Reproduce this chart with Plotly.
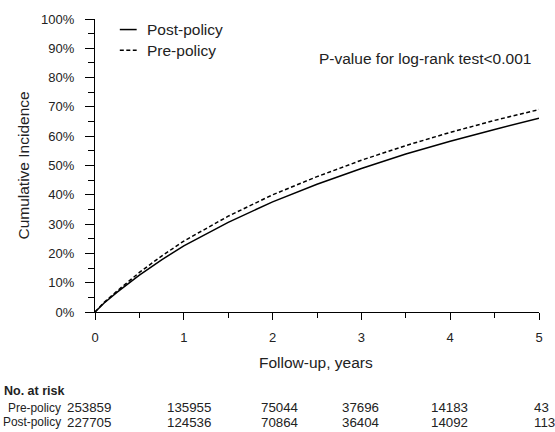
import plotly.graph_objects as go

# ---- data ----
time_years = [0, 0.1, 0.25, 0.5, 0.75, 1, 1.5, 2, 2.5, 3, 3.5, 4, 4.5, 5]
post_policy = [0, 3.0, 6.8, 12.6, 17.8, 22.6, 30.6, 37.6, 43.6, 49.0, 53.9, 58.3, 62.3, 66.1]
pre_policy = [0, 3.2, 7.2, 13.5, 19.1, 24.2, 32.7, 40.0, 46.2, 51.8, 56.8, 61.3, 65.4, 69.1]

risk_groups = ["Pre-policy", "Post-policy"]
risk_pre = ["253859", "135955", "75044", "37696", "14183", "43"]
risk_post = ["227705", "124536", "70864", "36404", "14092", "113"]
x_ticks = [0, 1, 2, 3, 4, 5]
y_ticks = [0, 10, 20, 30, 40, 50, 60, 70, 80, 90, 100]

FONT = "Liberation Sans, Arial, Helvetica, sans-serif"
TXT = "#222222"

W, H = 555, 432
ML, MR, MT, MB = 95, 12.5, 15, 120
PW = W - ML - MR
PH = H - MT - MB


def px_x(p):
    return (p - ML) / PW


def px_y(p):
    return (H - MB - p) / PH


fig = go.Figure()
fig.add_trace(go.Scatter(x=time_years, y=[v / 100 for v in post_policy], mode="lines",
                         name="Post-policy", line=dict(color="black", width=1.5),
                         showlegend=False))
fig.add_trace(go.Scatter(x=time_years, y=[v / 100 for v in pre_policy], mode="lines",
                         name="Pre-policy", line=dict(color="black", width=1.5, dash="4px,2.5px"),
                         showlegend=False))

shapes = []
ann = []
# manual legend
leg_rows = [("Post-policy", "solid", 25.7), ("Pre-policy", "4px,2.5px", 46.7)]
for name, dash, py in leg_rows:
    shapes.append(dict(type="line", xref="paper", yref="paper",
                       x0=px_x(120), x1=px_x(137), y0=px_y(py), y1=px_y(py),
                       line=dict(color="black", width=1.5, dash=dash)))
    ann.append(dict(text=name, xref="paper", yref="paper", x=px_x(145), y=px_y(py),
                    xanchor="left", yanchor="middle", showarrow=False,
                    font=dict(size=15.5, family=FONT, color=TXT)))

ann.append(dict(text="P-value for log-rank test<0.001", xref="paper", yref="paper",
                x=px_x(319), y=px_y(55), xanchor="left", yanchor="middle", showarrow=False,
                font=dict(size=15.5, family=FONT, color=TXT)))

ann.append(dict(text="Cumulative Incidence", xref="paper", yref="paper",
                x=px_x(23), y=px_y(164), xanchor="center", yanchor="middle", textangle=-90,
                showarrow=False, font=dict(size=15.5, family=FONT, color=TXT)))

ann.append(dict(text="Follow-up, years", xref="paper", yref="paper",
                x=px_x(318), y=px_y(363), xanchor="center", yanchor="middle",
                showarrow=False, font=dict(size=15.5, family=FONT, color=TXT)))

# risk table
ann.append(dict(text="<b>No. at risk</b>", xref="paper", yref="paper",
                x=px_x(1), y=px_y(391.7), xanchor="left", yanchor="middle",
                showarrow=False, font=dict(size=12.5, family=FONT, color=TXT)))
row_y = [409.3, 424.0]
col_left = [65, 166, 260, 342, 432, 535]
for gname, vals, py in zip(risk_groups, [risk_pre, risk_post], row_y):
    ann.append(dict(text=gname, xref="paper", yref="paper", x=px_x(62.5), y=px_y(py),
                    xanchor="right", yanchor="middle", showarrow=False,
                    font=dict(size=11.9, family=FONT, color=TXT)))
    for v, cx in zip(vals, col_left):
        ann.append(dict(text=v, xref="paper", yref="paper", x=px_x(cx), y=px_y(py),
                        xanchor="left", yanchor="middle", showarrow=False,
                        font=dict(size=13.3, family=FONT, color=TXT)))

fig.update_layout(
    width=W, height=H,
    margin=dict(l=ML, r=MR, t=MT, b=MB, pad=0),
    paper_bgcolor="white", plot_bgcolor="white",
    showlegend=False,
    shapes=shapes, annotations=ann,
    font=dict(family=FONT, color=TXT, size=13),
    xaxis=dict(range=[0, 5], tickvals=x_ticks, ticktext=[str(t) for t in x_ticks],
               showgrid=False, zeroline=False, showline=True, linecolor="black", linewidth=1.3,
               ticks="outside", ticklen=7, tickwidth=1.3, tickcolor="black",
               ticklabelstandoff=6,
               tickfont=dict(size=13, family=FONT, color=TXT),
               minor=dict(tickvals=[0.5, 1.5, 2.5, 3.5, 4.5], ticks="outside", ticklen=5,
                          tickwidth=1.3, tickcolor="black", showgrid=False),
               fixedrange=True),
    yaxis=dict(range=[0, 1], tickvals=[v / 100 for v in y_ticks],
               ticktext=[f"{v}%" for v in y_ticks],
               showgrid=False, zeroline=False, showline=True, linecolor="black", linewidth=1.3,
               ticks="outside", ticklen=9, tickwidth=1.3, tickcolor="black",
               ticklabelstandoff=8,
               tickfont=dict(size=13, family=FONT, color=TXT),
               minor=dict(tickvals=[v / 100 + 0.05 for v in y_ticks[:-1]], ticks="outside",
                          ticklen=6, tickwidth=1.3, tickcolor="black", showgrid=False),
               fixedrange=True),
)

fig.write_html("out.html")
